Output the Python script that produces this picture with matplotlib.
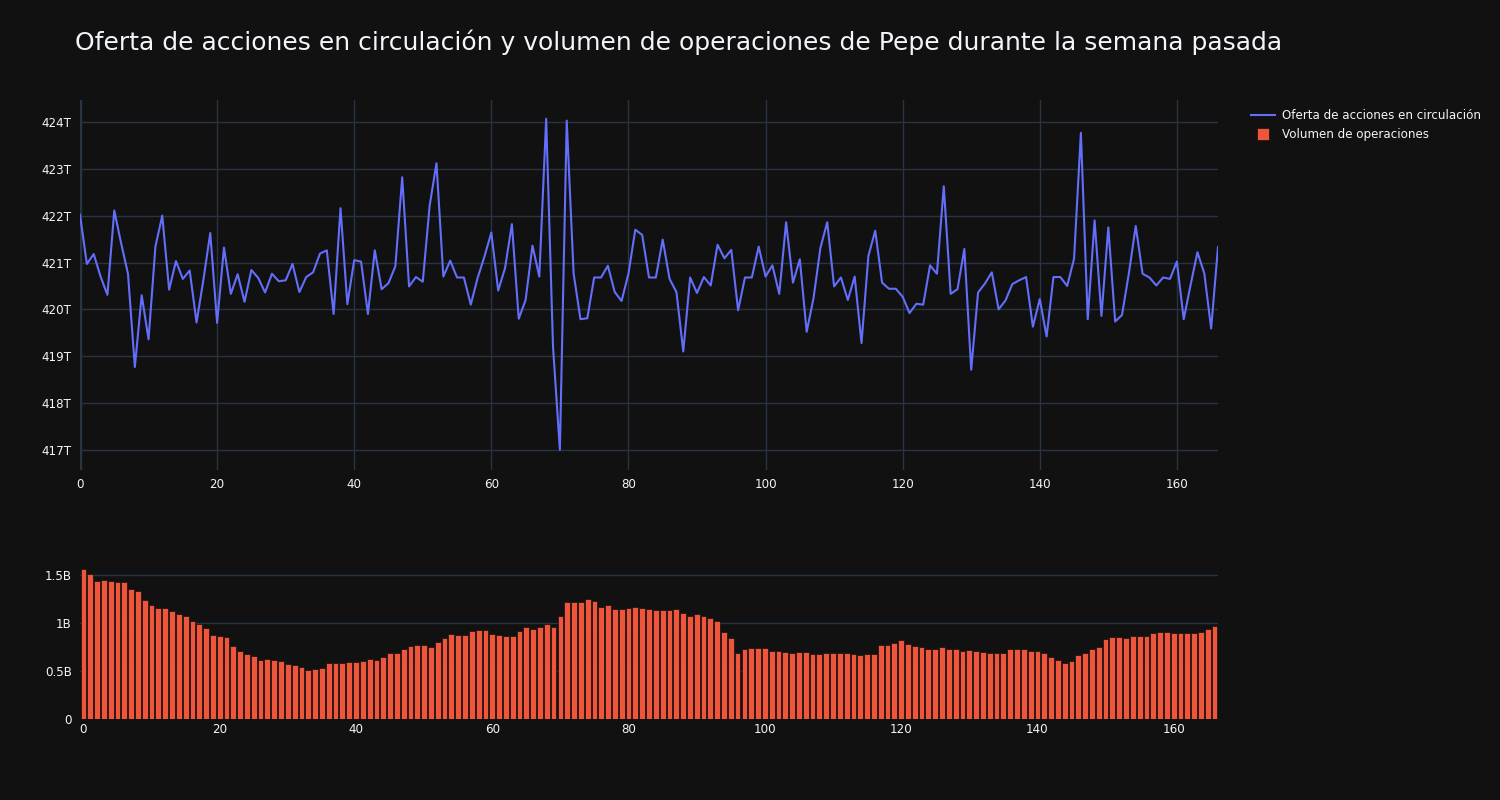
import numpy as np
import matplotlib
matplotlib.use("Agg")
import matplotlib.pyplot as plt
from matplotlib.ticker import FuncFormatter, MultipleLocator
from matplotlib.lines import Line2D

# Circulating supply (trillions)
supply_t = [
    422.02, 420.97, 421.18, 420.70, 420.31, 422.11, 421.41, 420.76, 418.77, 420.30,
    419.36, 421.34, 422.00, 420.42, 421.03, 420.65, 420.83, 419.72, 420.63, 421.63,
    419.71, 421.32, 420.33, 420.75, 420.16, 420.84, 420.67, 420.36, 420.76, 420.60,
    420.62, 420.97, 420.37, 420.69, 420.79, 421.19, 421.26, 419.90, 422.16, 420.11,
    421.05, 421.02, 419.90, 421.26, 420.43, 420.56, 420.92, 422.82, 420.49, 420.69,
    420.59, 422.21, 423.12, 420.70, 421.04, 420.68, 420.68, 420.10, 420.67, 421.13,
    421.64, 420.40, 420.88, 421.82, 419.80, 420.20, 421.36, 420.70, 424.07, 419.20,
    417.00, 424.03, 420.77, 419.79, 419.81, 420.68, 420.68, 420.93, 420.37, 420.18,
    420.76, 421.70, 421.59, 420.68, 420.68, 421.49, 420.65, 420.37, 419.10, 420.68,
    420.35, 420.69, 420.51, 421.38, 421.09, 421.27, 419.98, 420.68, 420.68, 421.34,
    420.70, 420.94, 420.33, 421.86, 420.57, 421.07, 419.52, 420.24, 421.31, 421.86,
    420.49, 420.68, 420.20, 420.70, 419.28, 421.14, 421.68, 420.57, 420.44, 420.44,
    420.27, 419.92, 420.12, 420.10, 420.94, 420.76, 422.63, 420.33, 420.43, 421.29,
    418.71, 420.36, 420.55, 420.79, 420.00, 420.19, 420.54, 420.62, 420.69, 419.63,
    420.22, 419.42, 420.69, 420.69, 420.50, 421.08, 423.77, 419.79, 421.90, 419.86,
    421.75, 419.74, 419.88, 420.77, 421.78, 420.76, 420.68, 420.51, 420.68, 420.65,
    421.02, 419.79, 420.52, 421.22, 420.77, 419.59, 421.33,
]

# Trading volume (billions)
volume_b = [
    1.556, 1.514, 1.441, 1.451, 1.438, 1.431, 1.424, 1.351, 1.330, 1.243,
    1.184, 1.156, 1.153, 1.128, 1.090, 1.069, 1.024, 0.986, 0.948, 0.875,
    0.868, 0.854, 0.757, 0.705, 0.674, 0.653, 0.618, 0.628, 0.615, 0.608,
    0.573, 0.566, 0.545, 0.510, 0.521, 0.531, 0.587, 0.587, 0.587, 0.597,
    0.597, 0.608, 0.625, 0.618, 0.649, 0.684, 0.684, 0.729, 0.757, 0.767,
    0.771, 0.750, 0.802, 0.840, 0.882, 0.875, 0.878, 0.917, 0.924, 0.931,
    0.882, 0.872, 0.865, 0.861, 0.913, 0.955, 0.938, 0.958, 0.990, 0.962,
    1.069, 1.215, 1.222, 1.215, 1.247, 1.233, 1.163, 1.184, 1.142, 1.149,
    1.156, 1.163, 1.156, 1.142, 1.132, 1.139, 1.139, 1.146, 1.101, 1.069,
    1.090, 1.069, 1.049, 1.017, 0.910, 0.840, 0.684, 0.729, 0.736, 0.736,
    0.740, 0.712, 0.712, 0.701, 0.691, 0.698, 0.698, 0.677, 0.674, 0.684,
    0.688, 0.688, 0.688, 0.674, 0.670, 0.677, 0.681, 0.771, 0.767, 0.788,
    0.826, 0.785, 0.760, 0.747, 0.729, 0.729, 0.747, 0.729, 0.729, 0.708,
    0.715, 0.712, 0.701, 0.684, 0.688, 0.691, 0.729, 0.729, 0.729, 0.705,
    0.705, 0.688, 0.646, 0.611, 0.580, 0.601, 0.667, 0.688, 0.726, 0.750,
    0.830, 0.858, 0.854, 0.840, 0.861, 0.868, 0.868, 0.896, 0.903, 0.903,
    0.892, 0.892, 0.892, 0.892, 0.906, 0.938, 0.969,
]

title = "Oferta de acciones en circulación y volumen de operaciones de Pepe durante la semana pasada"
line_label = "Oferta de acciones en circulación"
bar_label = "Volumen de operaciones"

BG = "#111111"
GRID = "#283442"
TXT = "#f2f5fa"
LINE_C = "#636efa"
BAR_C = "#EF553B"

x = np.arange(len(supply_t))
supply = np.array(supply_t) * 1e12
volume = np.array(volume_b) * 1e9

plt.rcParams['font.family'] = ['DejaVu Sans']

fig = plt.figure(figsize=(15, 8), dpi=100, facecolor=BG)
ax1 = fig.add_axes([80/1500, 1-470/800, (1218-80)/1500, 370/800])
ax2 = fig.add_axes([80/1500, 1-719/800, (1218-80)/1500, 157/800])

for ax in (ax1, ax2):
    ax.set_facecolor(BG)
    for s in ax.spines.values():
        s.set_visible(False)
    ax.tick_params(colors=TXT, labelsize=8.6, length=0, pad=6)
    ax.set_axisbelow(True)

# top line chart
ax1.plot(x, supply, color=LINE_C, lw=1.5)
ax1.set_xlim(0, 166)
ax1.set_ylim(416.57e12, 424.47e12)
ax1.yaxis.set_major_locator(MultipleLocator(1e12))
ax1.xaxis.set_major_locator(MultipleLocator(20))
ax1.yaxis.set_major_formatter(FuncFormatter(lambda v, p: f"{v/1e12:.0f}T"))
ax1.grid(True, color=GRID, lw=1)
ax1.axvline(0, color=GRID, lw=2.5, zorder=0)

# bottom bar chart
ax2.bar(x, volume, width=0.85, color=BAR_C, edgecolor=BG, linewidth=0.5)
ax2.set_xlim(-0.5, 166.5)
ax2.set_ylim(0, 1.634e9)
ax2.set_yticks([0, 0.5e9, 1e9, 1.5e9])
ax2.set_yticklabels(["0", "0.5B", "1B", "1.5B"])
ax2.xaxis.set_major_locator(MultipleLocator(20))
ax2.grid(True, axis='y', color=GRID, lw=1)
ax2.tick_params(axis='x', pad=3)

fig.text(75/1500, 1-42/800, title, color=TXT, fontsize=18, va='center', ha='left')

handles = [Line2D([0], [0], color=LINE_C, lw=1.5),
           Line2D([0], [0], color='none', marker='s', markersize=8,
                  markerfacecolor=BAR_C, markeredgecolor=BG, markeredgewidth=0.5)]
leg = fig.legend(handles, [line_label, bar_label], loc='upper left',
                 bbox_to_anchor=(1240/1500, 1-98/800), frameon=False,
                 fontsize=8.6, labelcolor=TXT, handlelength=2.0,
                 labelspacing=0.55, handletextpad=0.6)

fig.savefig("out.png", dpi=100, facecolor=BG)
